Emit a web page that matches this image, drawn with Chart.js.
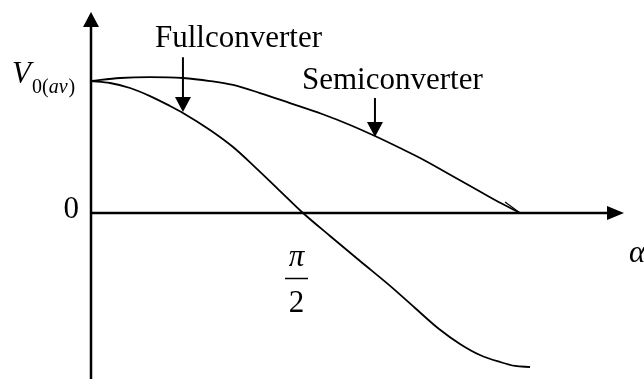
<!DOCTYPE html>
<html>
<head>
<meta charset="utf-8">
<script src="https://cdn.jsdelivr.net/npm/chart.js@4/dist/chart.umd.min.js"></script>
<style>
html,body{margin:0;padding:0;background:#fff;}
#wrap{width:644px;height:379px;position:relative;}
</style>
</head>
<body>
<div id="wrap"><canvas id="c" width="644" height="379"></canvas></div>
<script>
// firing angle alpha (rad) and normalised average output voltage V0(av)
const semiAlpha = [0, 0.218, 0.443, 0.69, 0.893, 1.066, 1.268, 1.493, 1.734, 1.944, 2.131, 2.319, 2.484, 2.672, 2.859, 3.032, 3.22];
const semiV     = [1.0, 1.023, 1.03, 1.023, 1.0, 0.97, 0.909, 0.833, 0.75, 0.667, 0.583, 0.492, 0.409, 0.303, 0.197, 0.098, 0.0];
const fullAlpha = [0, 0.143, 0.293, 0.443, 0.593, 0.69, 0.893, 1.066, 1.231, 1.396, 1.591, 1.794, 2.019, 2.236, 2.432, 2.612, 2.769, 2.919, 3.069, 3.182, 3.295];
const fullV     = [1.0, 0.985, 0.947, 0.886, 0.811, 0.758, 0.629, 0.5, 0.348, 0.189, 0.0, -0.174, -0.364, -0.545, -0.72, -0.879, -0.992, -1.076, -1.129, -1.159, -1.167];
const seriesNames = ['Fullconverter', 'Semiconverter'];
const tickLabels = ['0', 'π', '2', 'α'];

const toPts = (xs, ys) => xs.map((x, i) => ({x: x, y: ys[i]}));

const SERIF = '"Liberation Serif","Times New Roman",serif';

const drawPlugin = {
  id: 'schematic',
  afterDatasetsDraw(chart) {
    const ctx = chart.ctx;
    const xs = chart.scales.x, ys = chart.scales.y;
    const x0 = xs.getPixelForValue(0);
    const y0 = ys.getPixelForValue(0);
    const top = ys.getPixelForValue(ys.max);
    const bottom = ys.getPixelForValue(ys.min);
    const right = xs.getPixelForValue(xs.max);
    ctx.save();
    ctx.strokeStyle = '#000';
    ctx.fillStyle = '#000';
    ctx.lineWidth = 2.5;
    // y axis
    ctx.beginPath();
    ctx.moveTo(x0, bottom);
    ctx.lineTo(x0, top + 12);
    ctx.stroke();
    ctx.beginPath();
    ctx.moveTo(x0, top);
    ctx.lineTo(x0 - 8, top + 15);
    ctx.lineTo(x0 + 8, top + 15);
    ctx.closePath();
    ctx.fill();
    // x axis
    ctx.beginPath();
    ctx.moveTo(x0, y0);
    ctx.lineTo(right - 15, y0);
    ctx.stroke();
    ctx.beginPath();
    ctx.moveTo(right, y0);
    ctx.lineTo(right - 17, y0 - 7);
    ctx.lineTo(right - 17, y0 + 7);
    ctx.closePath();
    ctx.fill();

    // pointer arrows
    function pointer(a, vTop, vTip) {
      const px = xs.getPixelForValue(a);
      const pTop = ys.getPixelForValue(vTop);
      const pTip = ys.getPixelForValue(vTip);
      ctx.lineWidth = 2;
      ctx.beginPath();
      ctx.moveTo(px, pTop);
      ctx.lineTo(px, pTip - 13);
      ctx.stroke();
      ctx.beginPath();
      ctx.moveTo(px, pTip);
      ctx.lineTo(px - 8, pTip - 15);
      ctx.lineTo(px + 8, pTip - 15);
      ctx.closePath();
      ctx.fill();
    }
    pointer(0.69, 1.18, 0.765);
    pointer(2.131, 0.871, 0.575);

    // small barb at end of semiconverter curve
    ctx.lineWidth = 1.2;
    ctx.beginPath();
    ctx.moveTo(xs.getPixelForValue(3.22) - 15, y0 - 11);
    ctx.lineTo(xs.getPixelForValue(3.22), y0);
    ctx.stroke();

    // texts
    ctx.textBaseline = 'alphabetic';
    ctx.textAlign = 'left';
    ctx.font = '31px ' + SERIF;
    ctx.fillText(seriesNames[0], 155, 47);
    ctx.fillText(seriesNames[1], 302, 89);

    // V0(av)
    ctx.font = 'italic 31px ' + SERIF;
    ctx.fillText('V', 12, 83);
    ctx.font = '20px ' + SERIF;
    ctx.fillText('0(', 32, 93);
    let w = ctx.measureText('0(').width;
    ctx.font = 'italic 20px ' + SERIF;
    ctx.fillText('av', 32 + w, 93);
    let w2 = ctx.measureText('av').width;
    ctx.font = '20px ' + SERIF;
    ctx.fillText(')', 32 + w + w2 + 1, 93);

    // 0 tick
    ctx.font = '31px ' + SERIF;
    ctx.textAlign = 'right';
    ctx.fillText(tickLabels[0], 79, 218);

    // pi/2
    const cx = 296.5;
    ctx.textAlign = 'center';
    ctx.font = 'italic 31px ' + SERIF;
    ctx.fillText(tickLabels[1], cx, 266);
    ctx.lineWidth = 1.5;
    ctx.beginPath();
    ctx.moveTo(285, 278.5);
    ctx.lineTo(308, 278.5);
    ctx.stroke();
    ctx.font = '31px ' + SERIF;
    ctx.fillText(tickLabels[2], cx, 312);

    // alpha
    ctx.textAlign = 'left';
    ctx.font = 'italic 31px ' + SERIF;
    ctx.fillText(tickLabels[3], 629, 262);
    ctx.restore();
  }
};

new Chart(document.getElementById('c'), {
  type: 'scatter',
  data: {
    datasets: [
      { label: seriesNames[0], data: toPts(fullAlpha, fullV), showLine: true, borderColor: '#000',
        borderWidth: 1.8, pointRadius: 0, cubicInterpolationMode: 'monotone', fill: false },
      { label: seriesNames[1], data: toPts(semiAlpha, semiV), showLine: true, borderColor: '#000',
        borderWidth: 1.8, pointRadius: 0, cubicInterpolationMode: 'monotone', fill: false }
    ]
  },
  options: {
    responsive: false,
    animation: false,
    devicePixelRatio: 1,
    layout: { padding: { left: 91, top: 12, right: 20, bottom: 0 } },
    plugins: { legend: { display: false }, tooltip: { enabled: false }, title: { display: false } },
    scales: {
      x: { type: 'linear', min: 0, max: 4.0, display: false },
      y: { type: 'linear', min: -1.258, max: 1.523, display: false }
    },
    clip: false
  },
  plugins: [drawPlugin]
});
</script>
</body>
</html>
